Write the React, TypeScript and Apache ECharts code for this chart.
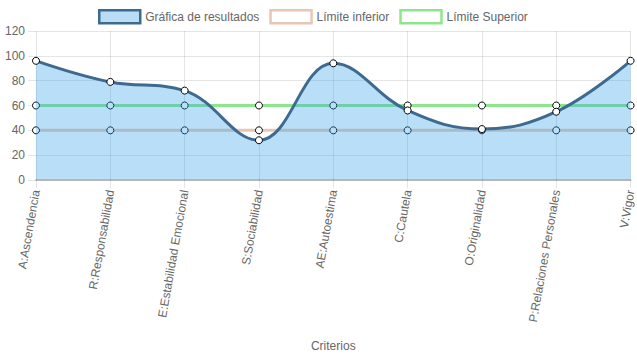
import React, { useEffect, useRef } from "react";
import * as echarts from "echarts";

const categories = [
  "A:Ascendencia",
  "R:Responsabilidad",
  "E:Estabilidad Emocional",
  "S:Sociabilidad",
  "AE:Autoestima",
  "C:Cautela",
  "O:Originalidad",
  "P:Relaciones Personales",
  "V:Vigor",
];
const resultados = [96, 79, 72, 32, 94, 56, 41, 55, 96];
const limiteInferior = [40, 40, 40, 40, 40, 40, 40, 40, 40];
const limiteSuperior = [60, 60, 60, 60, 60, 60, 60, 60, 60];
const yTicks = { min: 0, max: 120, interval: 20 };

const FONT = "Liberation Sans, Arial, Helvetica, sans-serif";
const LINE_BLUE = "#3f6a8f";
const FILL_BLUE = "rgba(54,162,235,0.35)";
const LOWER = "#e8c6b4";
const UPPER = "#8ee68c";

export default function App() {
  const ref = useRef<HTMLDivElement>(null);
  useEffect(() => {
    if (!ref.current) return;
    const chart = echarts.init(ref.current, undefined, { renderer: "svg" });
    const sym = {
      symbol: "circle",
      symbolSize: 7,
      itemStyle: { color: "#ffffff", borderColor: "#000000", borderWidth: 1 },
    };
    chart.setOption({
      animation: false,
      textStyle: { fontFamily: FONT },
      legend: {
        top: 4,
        left: 93,
        itemWidth: 41,
        itemHeight: 13,
        itemGap: 10,
        textStyle: { fontFamily: FONT, fontSize: 12, color: "#666666" },
        data: [
          {
            name: "Gráfica de resultados",
            icon: "rect",
            itemStyle: { color: "#b9dcf7", borderColor: LINE_BLUE, borderWidth: 2.5 },
          },
          {
            name: "Límite inferior",
            icon: "rect",
            itemStyle: { color: "#ffffff", borderColor: LOWER, borderWidth: 2.5 },
          },
          {
            name: "Límite Superior",
            icon: "rect",
            itemStyle: { color: "#ffffff", borderColor: UPPER, borderWidth: 2.5 },
          },
        ],
      },
      grid: { left: 36, right: 4, top: 31, bottom: 179, containLabel: false },
      xAxis: {
        type: "category",
        data: categories,
        boundaryGap: false,
        name: "Criterios",
        nameLocation: "middle",
        nameGap: 160,
        nameTextStyle: { fontFamily: FONT, fontSize: 12, color: "#666666" },
        axisLine: { show: true, lineStyle: { color: "rgba(0,0,0,0.2)", width: 2 } },
        axisTick: { show: true, alignWithLabel: true, length: 8, lineStyle: { color: "rgba(0,0,0,0.1)" } },
        axisLabel: {
          rotate: 80,
          margin: 10,
          interval: 0,
          fontFamily: FONT,
          fontSize: 12,
          color: "#666666",
        },
        splitLine: { show: true, lineStyle: { color: "rgba(0,0,0,0.1)" } },
      },
      yAxis: {
        type: "value",
        min: yTicks.min,
        max: yTicks.max,
        interval: yTicks.interval,
        axisLine: { show: false },
        axisTick: { show: true, length: 8, lineStyle: { color: "rgba(0,0,0,0.1)" } },
        axisLabel: { margin: 11, fontFamily: FONT, fontSize: 12, color: "#666666" },
        splitLine: { show: true, lineStyle: { color: "rgba(0,0,0,0.1)" } },
      },
      series: [
        {
          name: "Límite inferior",
          type: "line",
          data: limiteInferior,
          z: 2,
          color: LOWER,
          lineStyle: { color: LOWER, width: 3 },
          ...sym,
        },
        {
          name: "Límite Superior",
          type: "line",
          data: limiteSuperior,
          z: 2,
          color: UPPER,
          lineStyle: { color: UPPER, width: 3 },
          ...sym,
        },
        {
          name: "Gráfica de resultados",
          type: "line",
          data: resultados,
          z: 3,
          smooth: 0.4,
          showSymbol: false,
          symbol: "none",
          lineStyle: { width: 0, opacity: 0 },
          areaStyle: { color: FILL_BLUE, opacity: 1 },
          color: FILL_BLUE,
        },
        {
          name: "Gráfica de resultados",
          type: "line",
          data: resultados,
          z: 4,
          smooth: 0.4,
          color: LINE_BLUE,
          lineStyle: { color: LINE_BLUE, width: 3 },
          ...sym,
        },
      ],
    });
    return () => chart.dispose();
  }, []);
  return <div ref={ref} style={{ width: 637, height: 359, position: "absolute", left: 0, top: 0 }} />;
}
